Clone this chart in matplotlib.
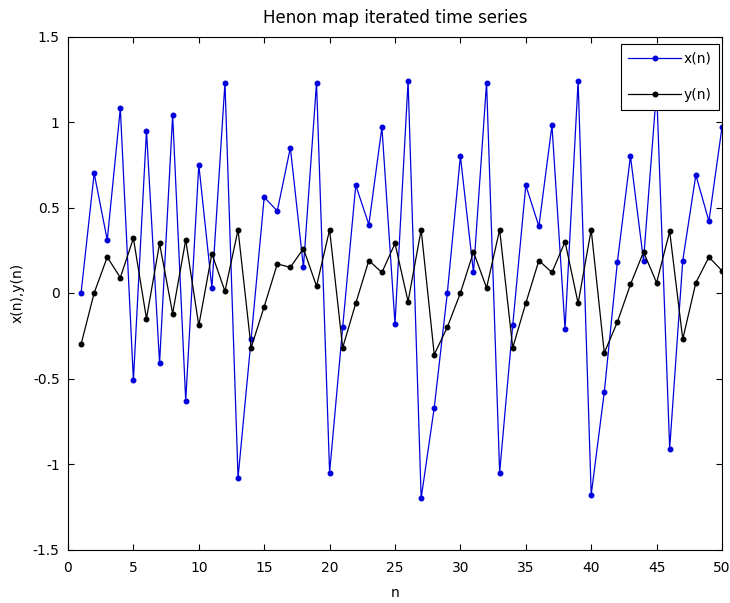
import matplotlib
matplotlib.use('Agg')
import matplotlib.pyplot as plt
import numpy as np

# values
n = np.arange(1, 51)
x_vals = [0.00, 0.70, 0.31, 1.08, -0.51, 0.95, -0.41, 1.04, -0.63, 0.75,
          0.03, 1.23, -1.08, -0.27, 0.56, 0.48, 0.85, 0.15, 1.23, -1.05,
          -0.20, 0.63, 0.40, 0.97, -0.18, 1.24, -1.20, -0.67, 0.00, 0.80,
          0.12, 1.23, -1.05, -0.19, 0.63, 0.39, 0.98, -0.21, 1.24, -1.18,
          -0.58, 0.18, 0.80, 0.19, 1.19, -0.91, 0.19, 0.69, 0.42, 0.97]
y_vals = [-0.30, 0.00, 0.21, 0.09, 0.32, -0.15, 0.29, -0.12, 0.31, -0.19,
          0.23, 0.01, 0.37, -0.32, -0.08, 0.17, 0.15, 0.26, 0.04, 0.37,
          -0.32, -0.06, 0.19, 0.12, 0.29, -0.05, 0.37, -0.36, -0.20, 0.00,
          0.24, 0.03, 0.37, -0.32, -0.06, 0.19, 0.12, 0.30, -0.06, 0.37,
          -0.35, -0.17, 0.05, 0.24, 0.06, 0.36, -0.27, 0.06, 0.21, 0.13]
y_ticks = [-1.5, -1, -0.5, 0, 0.5, 1, 1.5]
y_ticklabels = ['-1.5', '-1', '-0.5', '0', '0.5', '1', '1.5']
x_ticks = [0, 5, 10, 15, 20, 25, 30, 35, 40, 45, 50]

plt.rcParams['font.family'] = 'DejaVu Sans'
plt.rcParams['font.size'] = 10

fig = plt.figure(figsize=(7.30, 6.03), dpi=100)
ax = fig.add_axes([68 / 730, 1 - 549.5 / 603, 654 / 730, 513 / 603])

ax.plot(n, x_vals, '.-', color='#0000dd', lw=0.9, markersize=6.5, label='x(n)')
ax.plot(n, y_vals, '.-', color='black', lw=0.9, markersize=6.5, label='y(n)')

ax.set_xlim(0, 50)
ax.set_ylim(-1.5, 1.5)
ax.set_xticks(x_ticks)
ax.set_yticks(y_ticks)
ax.set_yticklabels(y_ticklabels)
ax.tick_params(direction='in', top=True, right=True, length=4, width=0.8)
ax.tick_params(axis='x', pad=8)
ax.tick_params(axis='y', pad=6)
for s in ax.spines.values():
    s.set_linewidth(0.8)

ax.set_title('Henon map iterated time series', pad=10)
ax.set_xlabel('n')
ax.set_ylabel('x(n),y(n)')
ax.xaxis.set_label_coords(0.5, -0.085)
ax.xaxis.label.set_va('center')
ax.yaxis.set_label_coords(-50 / 654, 0.5)
ax.yaxis.label.set_va('center')

leg = ax.legend(loc='upper right', bbox_to_anchor=(0.995, 0.985),
                borderaxespad=0, fancybox=False, framealpha=1,
                edgecolor='black', handlelength=3.8, handletextpad=0.15,
                labelspacing=1.6, borderpad=0.55)
leg.get_frame().set_linewidth(0.8)

fig.savefig('out.png', dpi=100)
